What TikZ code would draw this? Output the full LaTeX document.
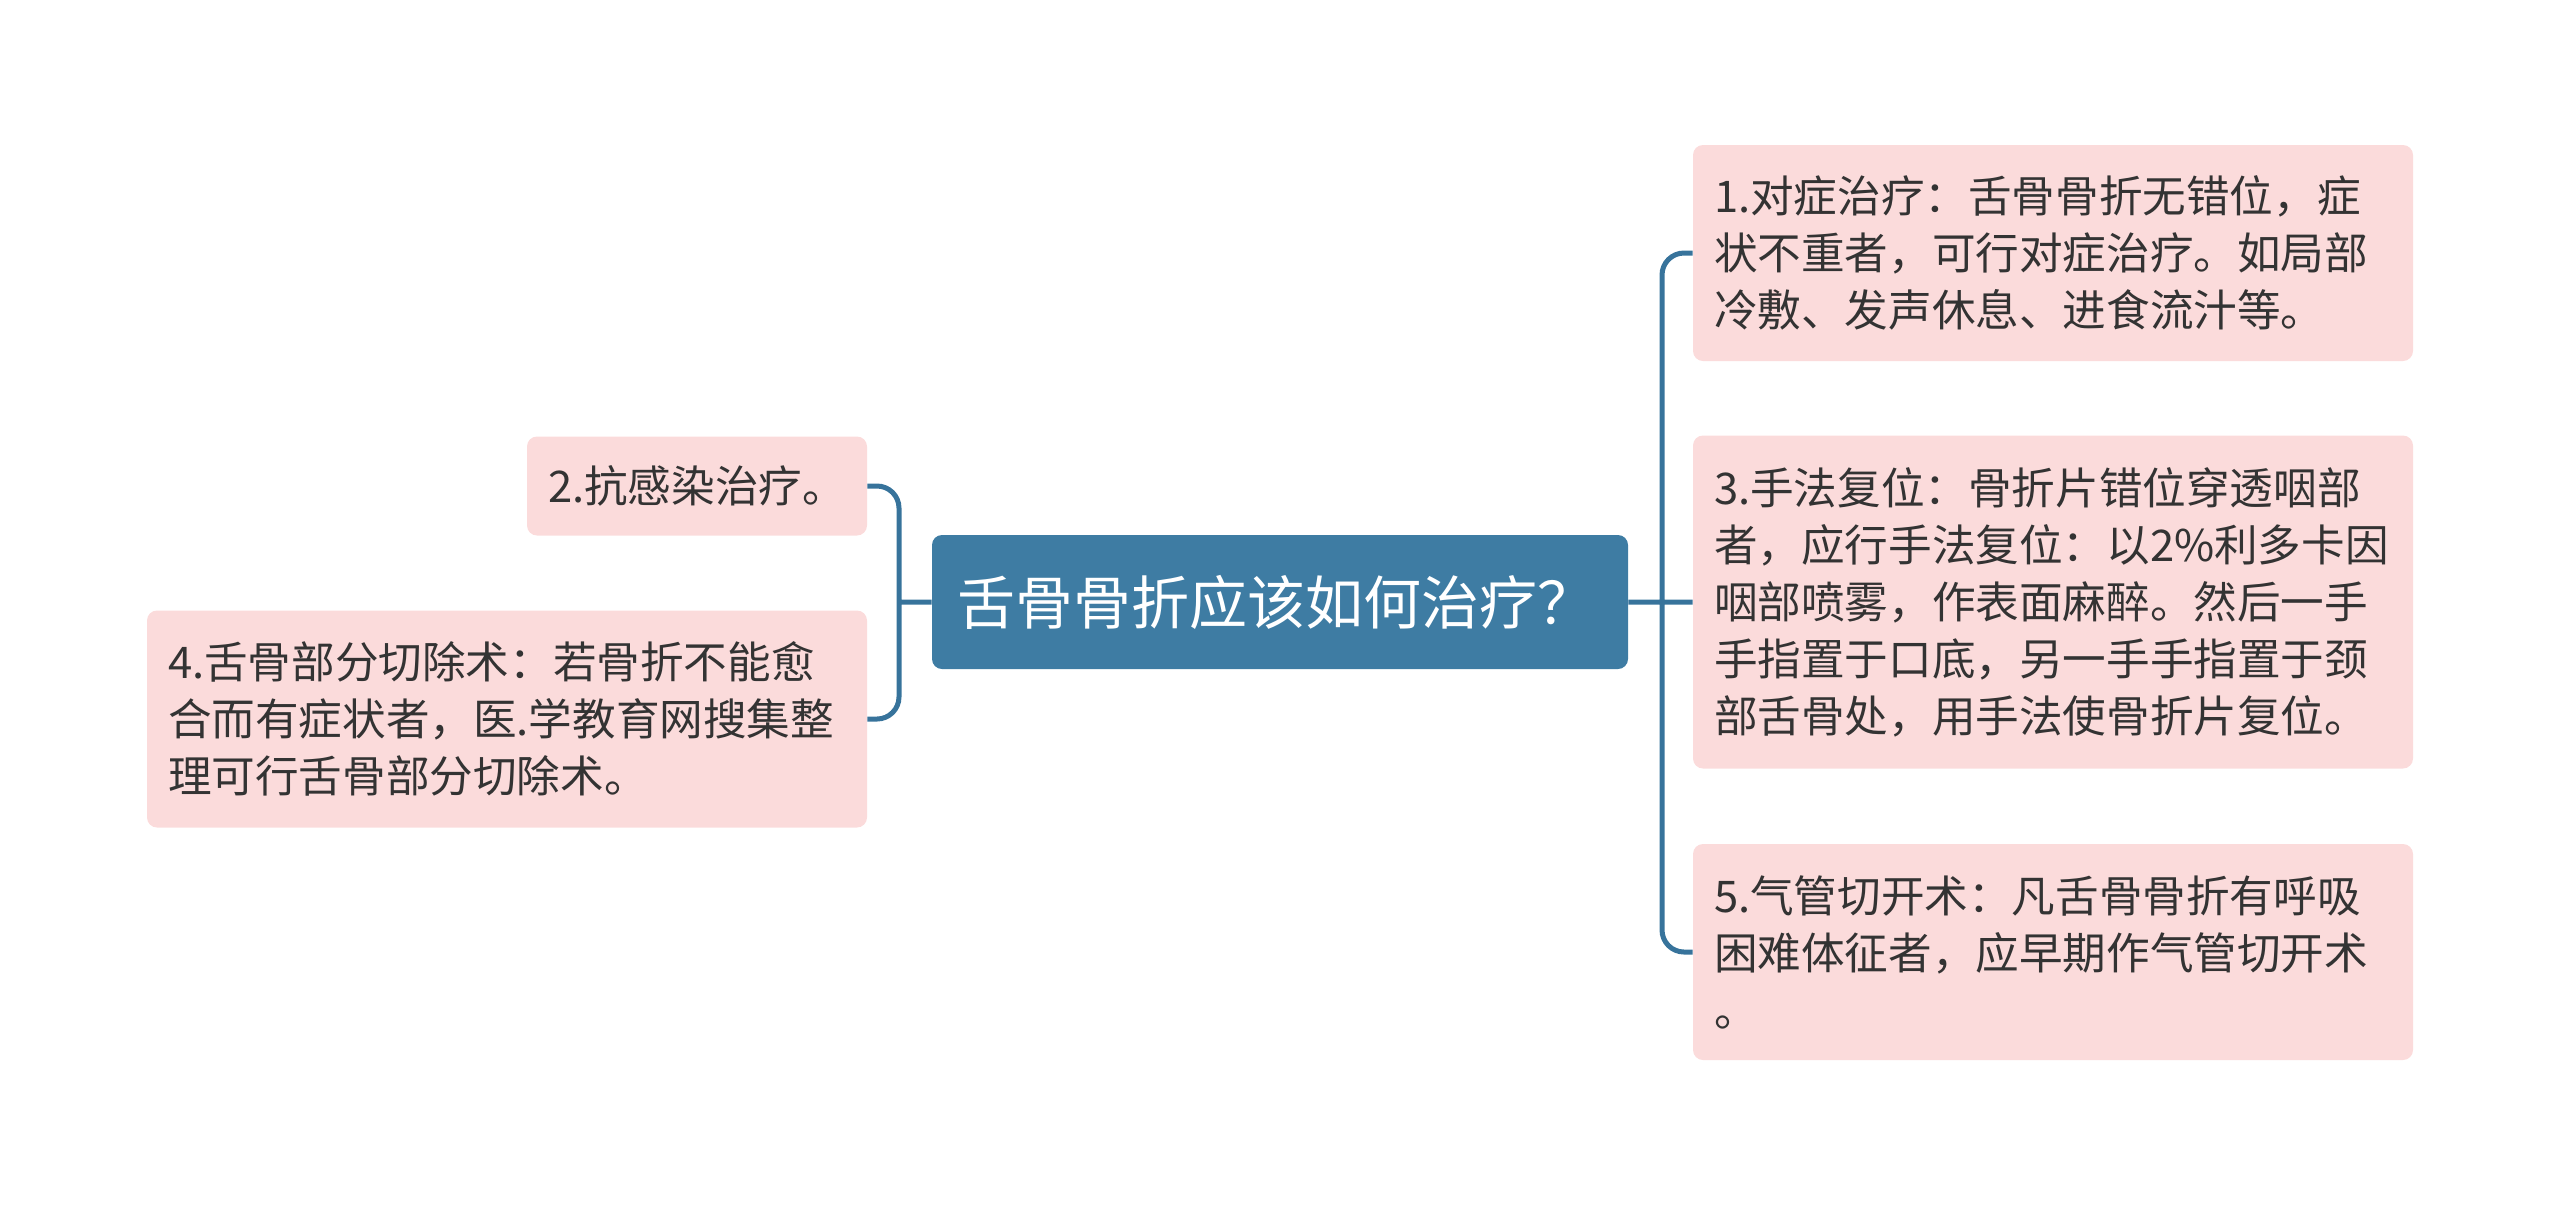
\documentclass[tikz,border=0pt]{standalone}
\usepackage{fontspec}
\setmainfont{Noto Sans CJK SC}
\usetikzlibrary{positioning}

\definecolor{rootblue}{RGB}{62,124,163}
\definecolor{linkblue}{RGB}{55,115,155}
\definecolor{leafpink}{RGB}{251,219,219}
\definecolor{leaftext}{RGB}{51,51,51}

\begin{document}
\begin{tikzpicture}[x=0.5pt,y=-0.5pt,
    root/.style={rectangle,rounded corners=5pt,fill=rootblue,text=white,
                 minimum width=348pt,minimum height=67pt,
                 font=\fontsize{29}{35}\selectfont},
    leaf/.style={rectangle,rounded corners=5pt,fill=leafpink,text=leaftext,
                 align=left,inner xsep=10.5pt,
                 font=\fontsize{21.8}{28.5}\selectfont},
    link/.style={draw=linkblue,line width=2.5pt,rounded corners=11pt}]
    \useasboundingbox (0,0) rectangle (2560,1207);

    \node[root]  (root) at (1280,602)                                       {舌骨骨折应该如何治疗？\hspace*{4pt}};
    \node[leaf,text width=339pt,minimum height=108pt]   (n1) at (2053,253)  {1.对症治疗：舌骨骨折无错位，症\\状不重者，可行对症治疗。如局部\\冷敷、发声休息、进食流汁等。};
    \node[leaf,text width=339pt,minimum height=166.5pt] (n3) at (2053,602)  {3.手法复位：骨折片错位穿透咽部\\者，应行手法复位：以2\%利多卡因\\咽部喷雾，作表面麻醉。然后一手\\手指置于口底，另一手手指置于颈\\部舌骨处，用手法使骨折片复位。};
    \node[leaf,text width=339pt,minimum height=108pt]   (n5) at (2053,952)  {5.气管切开术：凡舌骨骨折有呼吸\\困难体征者，应早期作气管切开术\\。};
    \node[leaf,minimum width=170pt,minimum height=49.5pt] (n2) at (697,486) {2.抗感染治疗。};
    \node[leaf,text width=339pt,minimum height=108.5pt] (n4) at (507,719)   {4.舌骨部分切除术：若骨折不能愈\\合而有症状者，医.学教育网搜集整\\理可行舌骨部分切除术。};

    \coordinate (lbar) at (899,602);
    \coordinate (rbar) at (1662,602);

    \path[link] (n2.east) -| (lbar) |- (n4.east)
                (root.west) -- (lbar)
                (n1.west) -| (rbar) |- (n5.west)
                (root.east) -- (n3.west)
                ;
\end{tikzpicture}
\end{document}
